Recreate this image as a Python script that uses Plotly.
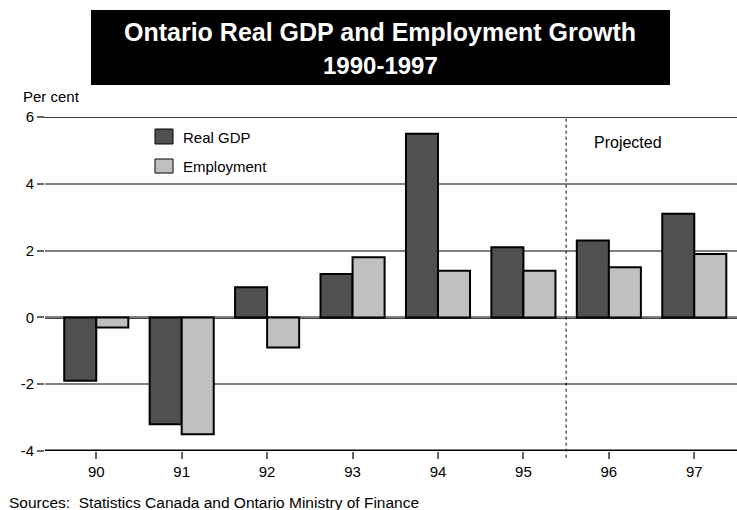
import plotly.graph_objects as go

years = ["90", "91", "92", "93", "94", "95", "96", "97"]
real_gdp = [-1.9, -3.2, 0.9, 1.3, 5.5, 2.1, 2.3, 3.1]
employment = [-0.3, -3.5, -0.9, 1.8, 1.4, 1.4, 1.5, 1.9]
y_ticks = [-4, -2, 0, 2, 4, 6]
y_tick_labels = ["-4", "-2", "0", "2", "4", "6"]

GDP_COLOR = "#505050"
EMP_COLOR = "#c0c0c0"
FONT = "Liberation Sans, Arial, sans-serif"

W, H = 737, 510
L, R, T, B = 45, 0, 117, 59
PW, PH = W - L - R, H - T - B


def px(x):
    return (x - L) / PW


def py(y):
    return (H - B - y) / PH


fig = go.Figure()
fig.add_bar(x=years, y=real_gdp, name="Real GDP",
            marker=dict(color=GDP_COLOR, line=dict(color="black", width=2)))
fig.add_bar(x=years, y=employment, name="Employment",
            marker=dict(color=EMP_COLOR, line=dict(color="black", width=2)))

shapes = []
# title box
shapes.append(dict(type="rect", xref="paper", yref="paper", x0=px(91), x1=px(670), y0=py(10), y1=py(85),
                   fillcolor="black", line=dict(width=0), layer="above"))
# black rules at top, zero and bottom
for yv, w, x0 in [(6, 1.5, px(38)), (0, 2.5, 0), (-4, 3, 0)]:
    shapes.append(dict(type="line", xref="paper", yref="y", x0=x0, x1=1, y0=yv, y1=yv,
                       line=dict(color="black", width=w), layer="below"))
# projection divider
shapes.append(dict(type="line", xref="x", yref="paper", x0=5.5, x1=5.5, y0=-0.02, y1=1,
                   line=dict(color="black", width=1, dash="dot")))
# legend swatches
shapes.append(dict(type="rect", xref="paper", yref="paper", x0=px(155), x1=px(173), y0=py(144), y1=py(129),
                   fillcolor=GDP_COLOR, line=dict(color="black", width=1)))
shapes.append(dict(type="rect", xref="paper", yref="paper", x0=px(155), x1=px(173), y0=py(173), y1=py(159),
                   fillcolor=EMP_COLOR, line=dict(color="black", width=1)))

annotations = [
    dict(text="<b>Ontario Real GDP and Employment Growth</b>", xref="paper", yref="paper", x=px(380), y=py(32),
         showarrow=False, font=dict(family=FONT, size=25, color="white"), xanchor="center", yanchor="middle"),
    dict(text="<b>1990-1997</b>", xref="paper", yref="paper", x=px(380), y=py(65),
         showarrow=False, font=dict(family=FONT, size=24, color="white"), xanchor="center", yanchor="middle"),
    dict(text="Per cent", xref="paper", yref="paper", x=px(21), y=py(97), showarrow=False,
         font=dict(family=FONT, size=15, color="black"), xanchor="left", yanchor="middle"),
    dict(text="Real GDP", xref="paper", yref="paper", x=px(181), y=py(137), showarrow=False,
         font=dict(family=FONT, size=15, color="black"), xanchor="left", yanchor="middle"),
    dict(text="Employment", xref="paper", yref="paper", x=px(181), y=py(166), showarrow=False,
         font=dict(family=FONT, size=15, color="black"), xanchor="left", yanchor="middle"),
    dict(text="Projected", xref="paper", yref="paper", x=px(592), y=py(142), showarrow=False,
         font=dict(family=FONT, size=16, color="black"), xanchor="left", yanchor="middle"),
    dict(text="Sources:  Statistics Canada and Ontario Ministry of Finance", xref="paper", yref="paper",
         x=px(7), y=py(502), showarrow=False, font=dict(family=FONT, size=15.5, color="black"),
         xanchor="left", yanchor="middle"),
]

fig.update_layout(
    width=W, height=H,
    margin=dict(l=L, r=R, t=T, b=B, pad=0),
    paper_bgcolor="white", plot_bgcolor="white",
    barmode="group", bargap=0.25, bargroupgap=0,
    showlegend=False,
    shapes=shapes, annotations=annotations,
    font=dict(family=FONT, size=15, color="black"),
)
fig.update_xaxes(type="category", range=[-0.6, 7.5], showgrid=False, zeroline=False, showline=False,
                 ticks="outside", ticklen=7, tickwidth=1.5, tickcolor="#666666",
                 tickfont=dict(family=FONT, size=15, color="black"))
fig.update_yaxes(range=[-4, 6], tickvals=y_ticks, ticktext=y_tick_labels, showgrid=True,
                 gridcolor="#808080", gridwidth=1.5, zeroline=False, showline=False,
                 ticks="outside", ticklen=7, tickwidth=1.5, tickcolor="#666666",
                 tickfont=dict(family=FONT, size=15, color="black"))

fig.write_html("out.html")
